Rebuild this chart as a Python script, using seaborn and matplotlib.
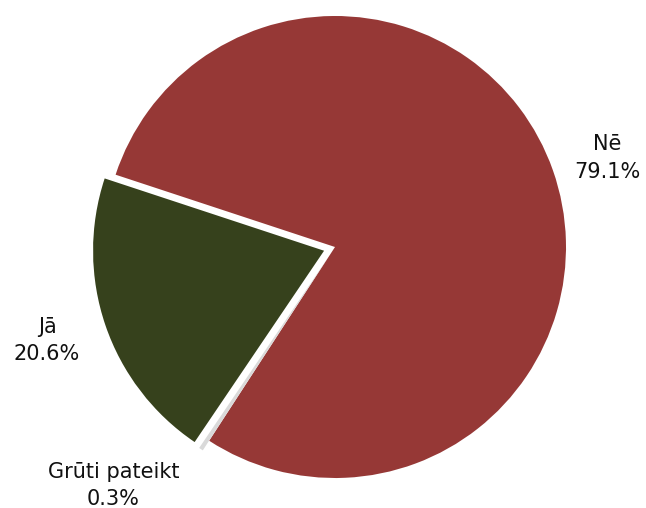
import numpy as np
import matplotlib
matplotlib.use("Agg")
import matplotlib.pyplot as plt
import seaborn as sns

categories = ["Nē", "Jā", "Grūti pateikt"]
values = [79.1, 20.6, 0.3]
pct_labels = ["79.1%", "20.6%", "0.3%"]
colors = ["#963836", "#36411c", "#d9d9d9"]
explode = [0.0, 0.05, 0.05]

# label placement (layout): radial distance and angle in degrees
label_dist = [1.24, 1.26, 1.36]
label_ang = [18.1, 197.9, 226.8]

sns.set_theme(style="white")
plt.rcParams["font.family"] = ["DejaVu Sans"]

fig = plt.figure(figsize=(6.46, 5.08), dpi=100)
W, H = 646, 508
cx, cy, r = 335, 247, 231
ax = fig.add_axes([(cx - r) / W, (H - cy - r) / H, 2 * r / W, 2 * r / H])

wedges, _ = ax.pie(values, colors=colors, explode=explode, startangle=237,
                   counterclock=True, labels=None,
                   wedgeprops=dict(linewidth=0))
ax.set_xlim(-1, 1)
ax.set_ylim(-1, 1)
ax.set_aspect("equal")
ax.axis("off")

for i, (cat, pct) in enumerate(zip(categories, pct_labels)):
    th = np.deg2rad(label_ang[i])
    ex = explode[i]
    w = wedges[i]
    mid = np.deg2rad((w.theta1 + w.theta2) / 2)
    x0 = ex * np.cos(mid)
    y0 = ex * np.sin(mid)
    ax.text(x0 + label_dist[i] * np.cos(th), y0 + label_dist[i] * np.sin(th),
            f"{cat}\n{pct}", ha="center", va="center", fontsize=15,
            color="#111111", linespacing=1.45, clip_on=False)

fig.savefig("out.png", dpi=100)
